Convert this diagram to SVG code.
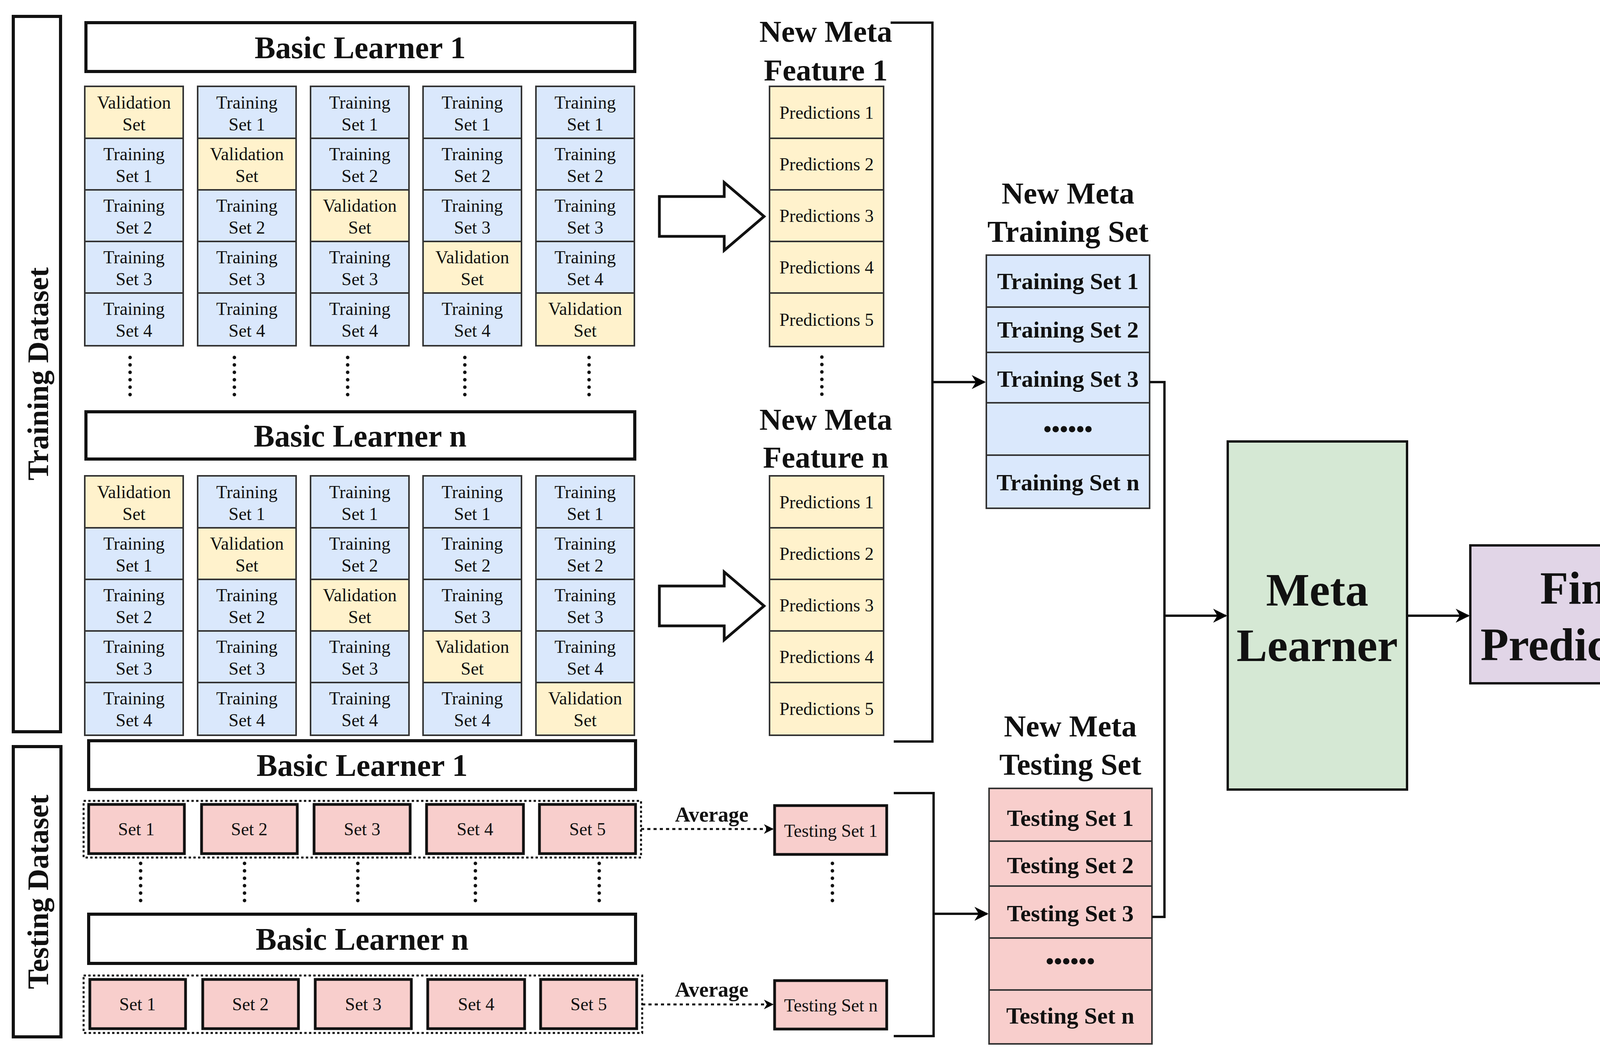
<svg xmlns="http://www.w3.org/2000/svg" width="4415" height="2703" viewBox="0 0 4415 2703">
<defs>
<marker id="ah" viewBox="0 0 10 10" refX="9" refY="5" markerWidth="6" markerHeight="6" markerUnits="strokeWidth" orient="auto"><path d="M0,0 L10,5 L0,10 L3,5 Z" fill="#000"/></marker>
<marker id="ah2" viewBox="0 0 10 10" refX="9" refY="5" markerWidth="5" markerHeight="5" markerUnits="strokeWidth" orient="auto"><path d="M0,0 L10,5 L0,10 L3,5 Z" fill="#000"/></marker>
</defs>
<style>
text{font-family:"Liberation Serif","Times New Roman",serif;fill:#111;text-anchor:middle;dominant-baseline:central}
.b{font-weight:bold}
.tc{fill:#dae8fc;stroke:#333;stroke-width:4}
.vc{fill:#fff2cc;stroke:#333;stroke-width:4}
.pc{fill:#f8cecc;stroke:#111;stroke-width:7}
.pm{fill:#f8cecc;stroke:#333;stroke-width:4}
.bl{fill:#fff;stroke:#111;stroke-width:8}
.s{font-size:46px}
.dots{stroke:#111;stroke-width:9;stroke-linecap:round;stroke-dasharray:0 19;fill:none}
.ln{stroke:#111;stroke-width:6;fill:none}
</style>
<rect width="4415" height="2703" fill="#fff"/>

<g id="training-dataset"><rect x="34" y="42" width="121" height="1831" fill="#fff" stroke="#111" stroke-width="8"/><text class="b" font-size="76" transform="translate(97,957) rotate(-90)">Training Dataset</text></g>
<g id="testing-dataset"><rect x="34" y="1911" width="122" height="743" fill="#fff" stroke="#111" stroke-width="8"/><text class="b" font-size="76" transform="translate(97,2283) rotate(-90)">Testing Dataset</text></g>

<g id="bl1"><rect class="bl" x="220" y="58" width="1405" height="125"/><text class="b" x="922" y="122" font-size="80">Basic Learner 1</text></g>
<g id="bln"><rect class="bl" x="220" y="1054" width="1405" height="121"/><text class="b" x="922" y="1116" font-size="80">Basic Learner n</text></g>

<g id="grid1" class="s">
<!-- col1 -->
<rect class="vc" x="217" y="221" width="252" height="133"/><text x="343" y="262">Validation</text><text x="343" y="318">Set</text>
<rect class="tc" x="217" y="354" width="252" height="132"/><text x="343" y="394">Training</text><text x="343" y="450">Set 1</text>
<rect class="tc" x="217" y="486" width="252" height="132"/><text x="343" y="526">Training</text><text x="343" y="582">Set 2</text>
<rect class="tc" x="217" y="618" width="252" height="132"/><text x="343" y="658">Training</text><text x="343" y="714">Set 3</text>
<rect class="tc" x="217" y="750" width="252" height="135"/><text x="343" y="790">Training</text><text x="343" y="846">Set 4</text>
<!-- col2 -->
<rect class="tc" x="506" y="221" width="252" height="133"/><text x="632" y="262">Training</text><text x="632" y="318">Set 1</text>
<rect class="vc" x="506" y="354" width="252" height="132"/><text x="632" y="394">Validation</text><text x="632" y="450">Set</text>
<rect class="tc" x="506" y="486" width="252" height="132"/><text x="632" y="526">Training</text><text x="632" y="582">Set 2</text>
<rect class="tc" x="506" y="618" width="252" height="132"/><text x="632" y="658">Training</text><text x="632" y="714">Set 3</text>
<rect class="tc" x="506" y="750" width="252" height="135"/><text x="632" y="790">Training</text><text x="632" y="846">Set 4</text>
<!-- col3 -->
<rect class="tc" x="795" y="221" width="252" height="133"/><text x="921" y="262">Training</text><text x="921" y="318">Set 1</text>
<rect class="tc" x="795" y="354" width="252" height="132"/><text x="921" y="394">Training</text><text x="921" y="450">Set 2</text>
<rect class="vc" x="795" y="486" width="252" height="132"/><text x="921" y="526">Validation</text><text x="921" y="582">Set</text>
<rect class="tc" x="795" y="618" width="252" height="132"/><text x="921" y="658">Training</text><text x="921" y="714">Set 3</text>
<rect class="tc" x="795" y="750" width="252" height="135"/><text x="921" y="790">Training</text><text x="921" y="846">Set 4</text>
<!-- col4 -->
<rect class="tc" x="1083" y="221" width="252" height="133"/><text x="1209" y="262">Training</text><text x="1209" y="318">Set 1</text>
<rect class="tc" x="1083" y="354" width="252" height="132"/><text x="1209" y="394">Training</text><text x="1209" y="450">Set 2</text>
<rect class="tc" x="1083" y="486" width="252" height="132"/><text x="1209" y="526">Training</text><text x="1209" y="582">Set 3</text>
<rect class="vc" x="1083" y="618" width="252" height="132"/><text x="1209" y="658">Validation</text><text x="1209" y="714">Set</text>
<rect class="tc" x="1083" y="750" width="252" height="135"/><text x="1209" y="790">Training</text><text x="1209" y="846">Set 4</text>
<!-- col5 -->
<rect class="tc" x="1372" y="221" width="252" height="133"/><text x="1498" y="262">Training</text><text x="1498" y="318">Set 1</text>
<rect class="tc" x="1372" y="354" width="252" height="132"/><text x="1498" y="394">Training</text><text x="1498" y="450">Set 2</text>
<rect class="tc" x="1372" y="486" width="252" height="132"/><text x="1498" y="526">Training</text><text x="1498" y="582">Set 3</text>
<rect class="tc" x="1372" y="618" width="252" height="132"/><text x="1498" y="658">Training</text><text x="1498" y="714">Set 4</text>
<rect class="vc" x="1372" y="750" width="252" height="135"/><text x="1498" y="790">Validation</text><text x="1498" y="846">Set</text>
</g>

<g id="grid2" class="s" transform="translate(0,997)">
<rect class="vc" x="217" y="221" width="252" height="133"/><text x="343" y="262">Validation</text><text x="343" y="318">Set</text>
<rect class="tc" x="217" y="354" width="252" height="132"/><text x="343" y="394">Training</text><text x="343" y="450">Set 1</text>
<rect class="tc" x="217" y="486" width="252" height="132"/><text x="343" y="526">Training</text><text x="343" y="582">Set 2</text>
<rect class="tc" x="217" y="618" width="252" height="132"/><text x="343" y="658">Training</text><text x="343" y="714">Set 3</text>
<rect class="tc" x="217" y="750" width="252" height="135"/><text x="343" y="790">Training</text><text x="343" y="846">Set 4</text>
<rect class="tc" x="506" y="221" width="252" height="133"/><text x="632" y="262">Training</text><text x="632" y="318">Set 1</text>
<rect class="vc" x="506" y="354" width="252" height="132"/><text x="632" y="394">Validation</text><text x="632" y="450">Set</text>
<rect class="tc" x="506" y="486" width="252" height="132"/><text x="632" y="526">Training</text><text x="632" y="582">Set 2</text>
<rect class="tc" x="506" y="618" width="252" height="132"/><text x="632" y="658">Training</text><text x="632" y="714">Set 3</text>
<rect class="tc" x="506" y="750" width="252" height="135"/><text x="632" y="790">Training</text><text x="632" y="846">Set 4</text>
<rect class="tc" x="795" y="221" width="252" height="133"/><text x="921" y="262">Training</text><text x="921" y="318">Set 1</text>
<rect class="tc" x="795" y="354" width="252" height="132"/><text x="921" y="394">Training</text><text x="921" y="450">Set 2</text>
<rect class="vc" x="795" y="486" width="252" height="132"/><text x="921" y="526">Validation</text><text x="921" y="582">Set</text>
<rect class="tc" x="795" y="618" width="252" height="132"/><text x="921" y="658">Training</text><text x="921" y="714">Set 3</text>
<rect class="tc" x="795" y="750" width="252" height="135"/><text x="921" y="790">Training</text><text x="921" y="846">Set 4</text>
<rect class="tc" x="1083" y="221" width="252" height="133"/><text x="1209" y="262">Training</text><text x="1209" y="318">Set 1</text>
<rect class="tc" x="1083" y="354" width="252" height="132"/><text x="1209" y="394">Training</text><text x="1209" y="450">Set 2</text>
<rect class="tc" x="1083" y="486" width="252" height="132"/><text x="1209" y="526">Training</text><text x="1209" y="582">Set 3</text>
<rect class="vc" x="1083" y="618" width="252" height="132"/><text x="1209" y="658">Validation</text><text x="1209" y="714">Set</text>
<rect class="tc" x="1083" y="750" width="252" height="135"/><text x="1209" y="790">Training</text><text x="1209" y="846">Set 4</text>
<rect class="tc" x="1372" y="221" width="252" height="133"/><text x="1498" y="262">Training</text><text x="1498" y="318">Set 1</text>
<rect class="tc" x="1372" y="354" width="252" height="132"/><text x="1498" y="394">Training</text><text x="1498" y="450">Set 2</text>
<rect class="tc" x="1372" y="486" width="252" height="132"/><text x="1498" y="526">Training</text><text x="1498" y="582">Set 3</text>
<rect class="tc" x="1372" y="618" width="252" height="132"/><text x="1498" y="658">Training</text><text x="1498" y="714">Set 4</text>
<rect class="vc" x="1372" y="750" width="252" height="135"/><text x="1498" y="790">Validation</text><text x="1498" y="846">Set</text>
</g>

<g id="dots-train">
<line class="dots" x1="333" y1="915" x2="333" y2="1020"/><line class="dots" x1="600" y1="915" x2="600" y2="1020"/><line class="dots" x1="890" y1="915" x2="890" y2="1020"/><line class="dots" x1="1190" y1="915" x2="1190" y2="1020"/><line class="dots" x1="1508" y1="915" x2="1508" y2="1020"/>
<line class="dots" x1="2104" y1="914" x2="2104" y2="1020"/>
</g>

<g id="hollow-arrows" fill="#fff" stroke="#111" stroke-width="7">
<path d="M1688,503 H1854 V467 L1956,554 L1854,641 V605 H1688 Z"/>
<path d="M1688,1500 H1854 V1464 L1956,1551 L1854,1638 V1602 H1688 Z"/>
</g>

<g id="meta-feature-1">
<text class="b" x="2114" y="80" font-size="78">New Meta</text><text class="b" x="2114" y="179" font-size="78">Feature 1</text>
<rect class="vc" x="1970" y="221" width="292" height="133"/><text class="s" x="2116" y="288">Predictions 1</text>
<rect class="vc" x="1970" y="354" width="292" height="132"/><text class="s" x="2116" y="420">Predictions 2</text>
<rect class="vc" x="1970" y="486" width="292" height="132"/><text class="s" x="2116" y="552">Predictions 3</text>
<rect class="vc" x="1970" y="618" width="292" height="132"/><text class="s" x="2116" y="684">Predictions 4</text>
<rect class="vc" x="1970" y="750" width="292" height="137"/><text class="s" x="2116" y="818">Predictions 5</text>
</g>
<g id="meta-feature-n">
<text class="b" x="2114" y="1073" font-size="78">New Meta</text><text class="b" x="2114" y="1170" font-size="78">Feature n</text>
<rect class="vc" x="1970" y="1218" width="292" height="133"/><text class="s" x="2116" y="1285">Predictions 1</text>
<rect class="vc" x="1970" y="1351" width="292" height="132"/><text class="s" x="2116" y="1417">Predictions 2</text>
<rect class="vc" x="1970" y="1483" width="292" height="132"/><text class="s" x="2116" y="1549">Predictions 3</text>
<rect class="vc" x="1970" y="1615" width="292" height="132"/><text class="s" x="2116" y="1681">Predictions 4</text>
<rect class="vc" x="1970" y="1747" width="292" height="135"/><text class="s" x="2116" y="1814">Predictions 5</text>
</g>

<g id="meta-training-set">
<text class="b" x="2734" y="494" font-size="78">New Meta</text><text class="b" x="2734" y="592" font-size="78">Training Set</text>
<rect class="tc" x="2525" y="653" width="418" height="133"/><text class="b" x="2734" y="720" font-size="60">Training Set 1</text>
<rect class="tc" x="2525" y="786" width="418" height="116"/><text class="b" x="2734" y="844" font-size="60">Training Set 2</text>
<rect class="tc" x="2525" y="902" width="418" height="129"/><text class="b" x="2734" y="970" font-size="60">Training Set 3</text>
<rect class="tc" x="2525" y="1031" width="418" height="134"/><text class="b" x="2734" y="1098" font-size="60">••••••</text>
<rect class="tc" x="2525" y="1165" width="418" height="136"/><text class="b" x="2734" y="1235" font-size="60">Training Set n</text>
</g>

<g id="test-bl1"><rect class="bl" x="227" y="1896" width="1400" height="125"/><text class="b" x="927" y="1959" font-size="80">Basic Learner 1</text></g>
<g id="test-bln"><rect class="bl" x="227" y="2340" width="1400" height="126"/><text class="b" x="927" y="2404" font-size="80">Basic Learner n</text></g>

<g id="test-sets-1">
<rect x="214" y="2050" width="1427" height="145" fill="none" stroke="#111" stroke-width="5" stroke-dasharray="6 6"/>
<rect class="pc" x="227" y="2059" width="245" height="126"/><text class="s" x="349" y="2122">Set 1</text>
<rect class="pc" x="516" y="2059" width="245" height="126"/><text class="s" x="638" y="2122">Set 2</text>
<rect class="pc" x="804" y="2059" width="246" height="126"/><text class="s" x="927" y="2122">Set 3</text>
<rect class="pc" x="1092" y="2059" width="248" height="126"/><text class="s" x="1216" y="2122">Set 4</text>
<rect class="pc" x="1381" y="2059" width="246" height="126"/><text class="s" x="1504" y="2122">Set 5</text>
</g>
<g id="test-sets-n">
<rect x="214" y="2497" width="1430" height="147" fill="none" stroke="#111" stroke-width="5" stroke-dasharray="6 6"/>
<rect class="pc" x="230" y="2507" width="245" height="126"/><text class="s" x="352" y="2570">Set 1</text>
<rect class="pc" x="519" y="2507" width="245" height="126"/><text class="s" x="641" y="2570">Set 2</text>
<rect class="pc" x="807" y="2507" width="246" height="126"/><text class="s" x="930" y="2570">Set 3</text>
<rect class="pc" x="1095" y="2507" width="248" height="126"/><text class="s" x="1219" y="2570">Set 4</text>
<rect class="pc" x="1384" y="2507" width="246" height="126"/><text class="s" x="1507" y="2570">Set 5</text>
</g>
<g id="dots-test">
<line class="dots" x1="360" y1="2210" x2="360" y2="2322"/><line class="dots" x1="626" y1="2210" x2="626" y2="2322"/><line class="dots" x1="916" y1="2210" x2="916" y2="2322"/><line class="dots" x1="1217" y1="2210" x2="1217" y2="2322"/><line class="dots" x1="1534" y1="2210" x2="1534" y2="2322"/>
<line class="dots" x1="2131" y1="2210" x2="2131" y2="2322"/>
</g>

<g id="testing-set-1"><rect class="pc" x="1983" y="2062" width="287" height="125"/><text class="s" x="2127" y="2126">Testing Set 1</text></g>
<g id="testing-set-n"><rect class="pc" x="1983" y="2510" width="287" height="124"/><text class="s" x="2127" y="2573">Testing Set n</text></g>

<g id="meta-testing-set">
<text class="b" x="2740" y="1858" font-size="78">New Meta</text><text class="b" x="2740" y="1956" font-size="78">Testing Set</text>
<rect class="pm" x="2532" y="2018" width="417" height="135"/><text class="b" x="2740" y="2094" font-size="60">Testing Set 1</text>
<rect class="pm" x="2532" y="2153" width="417" height="115"/><text class="b" x="2740" y="2215" font-size="60">Testing Set 2</text>
<rect class="pm" x="2532" y="2268" width="417" height="133"/><text class="b" x="2740" y="2338" font-size="60">Testing Set 3</text>
<rect class="pm" x="2532" y="2401" width="417" height="133"/><text class="b" x="2740" y="2460" font-size="60">••••••</text>
<rect class="pm" x="2532" y="2534" width="417" height="138"/><text class="b" x="2740" y="2600" font-size="60">Testing Set n</text>
</g>

<g id="meta-learner"><rect x="3143" y="1130" width="459" height="891" fill="#d5e8d4" stroke="#111" stroke-width="6"/><text class="b" x="3372" y="1510" font-size="118">Meta</text><text class="b" x="3372" y="1652" font-size="118">Learner</text></g>
<g id="final-predictions"><rect x="3764" y="1396" width="620" height="353" fill="#e1d5e7" stroke="#111" stroke-width="6"/><text class="b" x="4074" y="1505" font-size="118">Final</text><text class="b" x="4074" y="1650" font-size="118">Predictions</text></g>

<g id="connectors">
<path class="ln" d="M2280,58 H2387 V1898 H2288"/>
<path class="ln" d="M2387,978 H2520" marker-end="url(#ah)"/>
<path class="ln" d="M2288,2030 H2390 V2652 H2288"/>
<path class="ln" d="M2390,2339 H2527" marker-end="url(#ah)"/>
<path class="ln" d="M2943,978 H2981 V2347 H2949"/>
<path class="ln" d="M2981,1576 H3138" marker-end="url(#ah)"/>
<path class="ln" d="M3602,1576 H3759" marker-end="url(#ah)"/>
<path d="M1641,2122 H1978" fill="none" stroke="#111" stroke-width="5" stroke-dasharray="8 8" marker-end="url(#ah2)"/>
<path d="M1644,2571 H1978" fill="none" stroke="#111" stroke-width="5" stroke-dasharray="8 8" marker-end="url(#ah2)"/>
<text class="b" x="1822" y="2085" font-size="54">Average</text>
<text class="b" x="1822" y="2533" font-size="54">Average</text>
</g>
</svg>
